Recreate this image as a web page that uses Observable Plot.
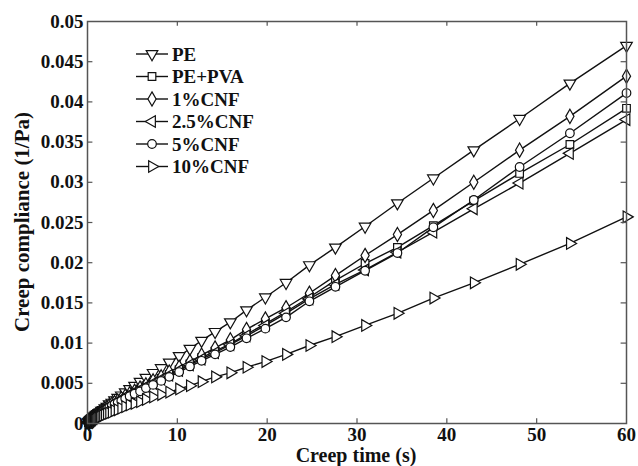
<!DOCTYPE html>
<html><head><meta charset="utf-8">
<script src="https://cdn.jsdelivr.net/npm/d3@7"></script>
<script src="https://cdn.jsdelivr.net/npm/@observablehq/plot@0.6"></script>
<style>body{margin:0;background:#fff} #chart{position:relative;width:638px;height:466px}</style>
</head><body><div id="chart"></div>
<script>
const time = [0.1,0.13,0.16,0.19,0.22,0.25,0.28,0.32,0.36,0.41,0.46,0.51,0.57,0.64,0.71,0.8,0.89,0.99,1.11,1.24,1.39,1.55,1.73,1.93,2.16,2.41,2.7,3.01,3.36,3.76,4.2,4.69,5.24,5.85,6.5,7.3,8.2,9.1,10.2,11.4,12.7,14.2,15.9,17.7,19.8,22.1,24.7,27.6,30.9,34.5,38.5,43.0,48.1,53.7,60];
const PE = [0.00012,0.00016,0.0002,0.00024,0.00028,0.00031,0.00035,0.0004,0.00044,0.0005,0.00055,0.0006,0.0007,0.0007,0.0008,0.0009,0.0010,0.0011,0.0012,0.0013,0.0014,0.0016,0.0017,0.0019,0.0021,0.0024,0.0026,0.0029,0.0032,0.0035,0.0039,0.0043,0.0047,0.0052,0.0057,0.0063,0.0069,0.0076,0.0084,0.0093,0.0103,0.0114,0.0126,0.0141,0.0157,0.0175,0.0197,0.0219,0.0245,0.0274,0.0305,0.0340,0.0379,0.0423,0.0470];
const PE_PVA = [0.0001,0.00013,0.00016,0.0002,0.00023,0.00026,0.00029,0.00033,0.00037,0.00041,0.00046,0.0005,0.0006,0.0007,0.0007,0.0008,0.0009,0.0010,0.0011,0.0012,0.0013,0.0014,0.0016,0.0017,0.0019,0.0021,0.0023,0.0025,0.0027,0.0030,0.0033,0.0036,0.0039,0.0043,0.0047,0.0051,0.0056,0.0061,0.0067,0.0074,0.0082,0.0090,0.0099,0.0111,0.0124,0.0139,0.0157,0.0178,0.0199,0.0219,0.0246,0.0277,0.0311,0.0347,0.0392];
const CNF1 = [0.00011,0.00014,0.00018,0.00021,0.00025,0.00028,0.00031,0.00036,0.0004,0.00045,0.0005,0.0006,0.0006,0.0007,0.0007,0.0008,0.0009,0.0010,0.0011,0.0012,0.0013,0.0015,0.0016,0.0018,0.0020,0.0022,0.0024,0.0026,0.0028,0.0031,0.0034,0.0037,0.0040,0.0044,0.0048,0.0053,0.0058,0.0064,0.0070,0.0077,0.0085,0.0094,0.0104,0.0117,0.0130,0.0144,0.0162,0.0184,0.0209,0.0235,0.0265,0.0300,0.0340,0.0382,0.0432];
const CNF2_5 = [0.0001,0.00013,0.00016,0.0002,0.00023,0.00026,0.00029,0.00033,0.00037,0.00041,0.00046,0.0005,0.0006,0.0006,0.0007,0.0008,0.0009,0.0010,0.0011,0.0012,0.0013,0.0014,0.0016,0.0017,0.0019,0.0021,0.0023,0.0025,0.0027,0.0030,0.0033,0.0036,0.0039,0.0042,0.0046,0.0050,0.0055,0.0060,0.0066,0.0073,0.0080,0.0088,0.0098,0.0109,0.0122,0.0137,0.0155,0.0173,0.0191,0.0213,0.0238,0.0267,0.0299,0.0336,0.0378];
const CNF5 = [0.00009,0.00012,0.00015,0.00018,0.00021,0.00024,0.00027,0.0003,0.00034,0.00038,0.00043,0.0005,0.0005,0.0006,0.0007,0.0007,0.0008,0.0009,0.0010,0.0011,0.0012,0.0013,0.0015,0.0016,0.0018,0.0020,0.0022,0.0024,0.0026,0.0028,0.0031,0.0034,0.0037,0.0040,0.0044,0.0048,0.0053,0.0058,0.0064,0.0071,0.0078,0.0086,0.0095,0.0106,0.0118,0.0132,0.0152,0.0170,0.0190,0.0212,0.0244,0.0278,0.0319,0.0361,0.0411];
const CNF10 = [0.00006,0.00008,0.0001,0.00012,0.00014,0.00016,0.00018,0.0002,0.00022,0.00025,0.00028,0.0003,0.0003,0.0004,0.0004,0.0005,0.0005,0.0006,0.0007,0.0007,0.0008,0.0009,0.0010,0.0011,0.0012,0.0013,0.0014,0.0016,0.0017,0.0019,0.0021,0.0023,0.0025,0.0027,0.0030,0.0033,0.0036,0.0039,0.0043,0.0047,0.0052,0.0058,0.0063,0.0070,0.0077,0.0086,0.0097,0.0108,0.0122,0.0137,0.0156,0.0175,0.0198,0.0224,0.0257];
const names = ["PE","PE+PVA","1%CNF","2.5%CNF","5%CNF","10%CNF"];
const xTicks = [0,10,20,30,40,50,60];
const yTicks = [0,0.005,0.01,0.015,0.02,0.025,0.03,0.035,0.04,0.045,0.05];
const xLabel = "Creep time (s)";
const yLabel = "Creep compliance (1/Pa)";

const values = [PE, PE_PVA, CNF1, CNF2_5, CNF5, CNF10];
const symbols = ["triangle","square","diamond","triangle","circle","triangle"];
const rotations = [180,0,0,-90,0,90];
const R = 4.3;
const FONT = "'Liberation Serif', 'Times New Roman', serif";
const seriesData = names.map((n,i)=>time.map((t,j)=>({t, c: values[i][j]})));

const marks = [];
seriesData.forEach((d,i)=>{
  marks.push(Plot.line(d,{x:"t",y:"c",stroke:"#111",strokeWidth:1.4}));
});
seriesData.forEach((d,i)=>{
  marks.push(Plot.dot(d,{x:"t",y:"c",symbol:symbols[i],rotate:rotations[i],r:R,fill:"white",stroke:"#111",strokeWidth:1.2}));
});
// inward tick lengths expressed in data units (~5px)
const xIn = 0.6, yIn = 0.0006;
const innerX = xTicks.filter(d=>d>0&&d<60), innerY = yTicks.filter(d=>d>0&&d<0.05);
const plot = Plot.plot({
  width:638, height:466,
  marginLeft:87, marginRight:12, marginTop:21, marginBottom:43,
  style:{fontFamily:FONT, fontSize:"19px", fontWeight:"bold", background:"white", color:"#111"},
  x:{domain:[0,60]},
  y:{domain:[0,0.05]},
  marks:[
    ...marks,
    Plot.ruleX(innerX,{x:d=>d,y1:0,y2:yIn,stroke:"#555",strokeWidth:1.2}),
    Plot.ruleX(innerX,{x:d=>d,y1:0.05-yIn,y2:0.05,stroke:"#555",strokeWidth:1.2}),
    Plot.ruleY(innerY,{y:d=>d,x1:0,x2:xIn,stroke:"#555",strokeWidth:1.2}),
    Plot.ruleY(innerY,{y:d=>d,x1:60-xIn,x2:60,stroke:"#555",strokeWidth:1.2}),
    Plot.frame({stroke:"#555", strokeWidth:1.5}),
    Plot.axisX(xTicks,{anchor:"bottom",tickSize:0,tickPadding:4,tickFormat:d=>String(d),label:null,fontSize:19}),
    Plot.axisY(yTicks,{anchor:"left",tickSize:0,tickPadding:4,tickFormat:d=>String(d),label:null,fontSize:19})
  ]
});
document.getElementById("chart").appendChild(plot);

const svg = d3.select(plot);
svg.append("text").attr("x",356).attr("y",462).attr("text-anchor","middle")
  .attr("font-size",20).attr("font-weight","bold").attr("font-family",FONT).attr("fill","#111").text(xLabel);
svg.append("text").attr("transform","translate(22,222) rotate(-90)").attr("text-anchor","middle").attr("dy","0.35em")
  .attr("font-size",21).attr("font-weight","bold").attr("font-family",FONT).attr("fill","#111").text(yLabel);

const symMap = {triangle:d3.symbolTriangle, square:d3.symbolSquare, diamond:d3.symbolDiamond, circle:d3.symbolCircle};
const lg = svg.append("g");
names.forEach((n,i)=>{
  const y = 54 + i*22.5;
  lg.append("line").attr("x1",136).attr("x2",168).attr("y1",y).attr("y2",y).attr("stroke","#111").attr("stroke-width",1.4);
  lg.append("path").attr("d",d3.symbol(symMap[symbols[i]], R*R*Math.PI)())
    .attr("transform",`translate(152,${y}) rotate(${rotations[i]})`).attr("fill","white").attr("stroke","#111").attr("stroke-width",1.2);
  lg.append("text").attr("x",172).attr("y",y).attr("dy","0.35em").attr("text-anchor","start").attr("font-size",19).attr("font-weight","bold")
    .attr("font-family",FONT).attr("fill","#111").text(n);
});
</script></body></html>
